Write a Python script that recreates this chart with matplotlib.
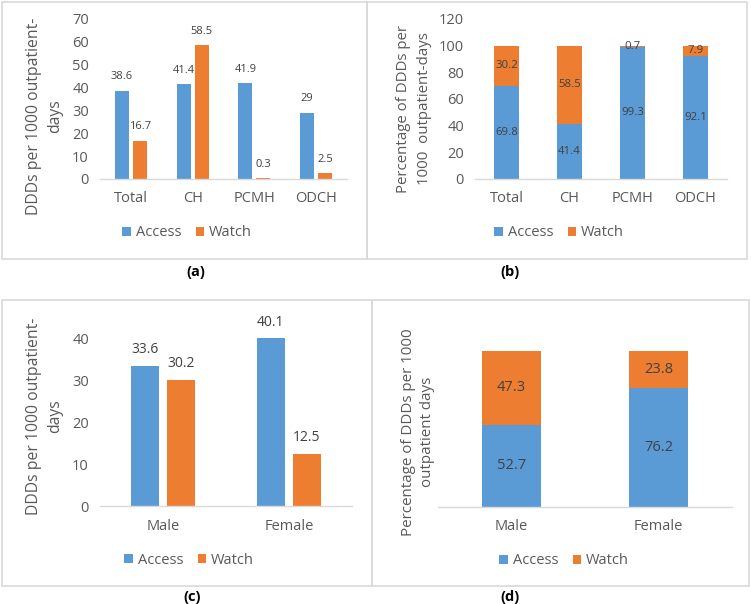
import matplotlib
matplotlib.use("Agg")
import matplotlib.pyplot as plt
from matplotlib.patches import Patch, Rectangle
import numpy as np

plt.rcParams['font.family'] = ['Open Sans', 'DejaVu Sans']

# ---- data ----
facilities = ["Total", "CH", "PCMH", "ODCH"]
access_ddd = [38.6, 41.4, 41.9, 29]
watch_ddd = [16.7, 58.5, 0.3, 2.5]
access_pct = [69.8, 41.4, 99.3, 92.1]
watch_pct = [30.2, 58.5, 0.7, 7.9]

sexes = ["Male", "Female"]
access_ddd_sex = [33.6, 40.1]
watch_ddd_sex = [30.2, 12.5]
access_pct_sex = [52.7, 76.2]
watch_pct_sex = [47.3, 23.8]

series_names = ["Access", "Watch"]
yticks_a = [0, 10, 20, 30, 40, 50, 60, 70]
yticks_b = [0, 20, 40, 60, 80, 100, 120]
yticks_c = [0, 10, 20, 30, 40]

BLUE = "#5B9BD5"
ORANGE = "#ED7D31"
TICK = "#595959"
LAB = "#404040"
GRID = "#D9D9D9"

W, H = 751, 604
fig = plt.figure(figsize=(W / 100, H / 100), dpi=100)


def rect(x0, y0, x1, y1):
    """pixel box (top-left origin) -> figure fraction rect"""
    return [x0 / W, 1 - y1 / H, (x1 - x0) / W, (y1 - y0) / H]


def fx(x):
    return x / W


def fy(y):
    return 1 - y / H


# panel borders
for (x0, y0, x1, y1) in [(2, 2, 367, 259), (367, 2, 747, 259),
                         (2, 300, 372, 586), (372, 300, 749, 586)]:
    fig.add_artist(Rectangle((fx(x0), fy(y1)), fx(x1) - fx(x0), fy(y0) - fy(y1),
                             transform=fig.transFigure, fill=False,
                             edgecolor=GRID, linewidth=1.2))


def style(ax, cats, tick_fs, show_y=True):
    for s in ["top", "right", "left"]:
        ax.spines[s].set_visible(False)
    ax.spines["bottom"].set_color(GRID)
    ax.spines["bottom"].set_linewidth(1.0)
    ax.tick_params(axis="both", length=0, colors=TICK, labelsize=tick_fs)
    ax.set_xticks(range(len(cats)))
    ax.set_xticklabels(cats)
    ax.tick_params(axis="x", pad=9)
    ax.tick_params(axis="y", pad=8)
    ax.set_xlim(-0.5, len(cats) - 0.5)
    if not show_y:
        ax.set_yticks([])


def legend(ax, cx, cy, fs):
    handles = [Patch(facecolor=BLUE), Patch(facecolor=ORANGE)]
    fig.legend(handles, series_names, loc="center", bbox_to_anchor=(fx(cx), fy(cy)),
               ncol=2, frameon=False, fontsize=fs, labelcolor=TICK,
               handlelength=0.6, handleheight=0.6, handletextpad=0.3,
               columnspacing=1.0, borderpad=0)


def ylabel(text, cx, cy, fs, ls):
    fig.text(fx(cx), fy(cy), text, rotation=90, ha="center", va="center",
             multialignment="center", fontsize=fs, color=TICK, linespacing=ls)


TFS = 10.5

# ---- (a) ----
ax = fig.add_axes(rect(100, 19, 347, 179))
x = np.arange(len(facilities))
w, off = 0.23, 0.146
b1 = ax.bar(x - off, access_ddd, w, color=BLUE)
b2 = ax.bar(x + off, watch_ddd, w, color=ORANGE)
ax.set_ylim(0, 70)
ax.set_yticks(yticks_a)
style(ax, facilities, TFS)
for bars in (b1, b2):
    for r, v in zip(bars, bars.datavalues):
        ax.annotate(f"{v:g}", (r.get_x() + r.get_width() / 2, v), xytext=(0, 6),
                    textcoords="offset points", ha="center", va="bottom",
                    fontsize=8, color=LAB)
legend(ax, 187, 233, TFS)
ylabel("DDDs per 1000 outpatient-\ndays", 45, 116, 11.3, 1.43)
fig.text(fx(196), fy(272), "(a)", ha="center", va="center", fontsize=10.5,
         fontweight="bold", color="black")

# ---- (b) ----
ax = fig.add_axes(rect(475, 19, 727, 179))
bw = 0.4
s1 = ax.bar(x, access_pct, bw, color=BLUE)
s2 = ax.bar(x, watch_pct, bw, bottom=access_pct, color=ORANGE)
ax.set_ylim(0, 120)
ax.set_yticks(yticks_b)
style(ax, facilities, TFS)
for bars, bottoms in ((s1, [0] * 4), (s2, access_pct)):
    for r, v, b in zip(bars, bars.datavalues, bottoms):
        ax.text(r.get_x() + r.get_width() / 2, b + v / 2, f"{v:g}", ha="center",
                va="center", fontsize=8.2, color=LAB)
legend(ax, 559, 233, TFS)
ylabel("Percentage of DDDs per\n1000  outpatient-days", 414, 109, 10.8, 1.6)
fig.text(fx(510), fy(272), "(b)", ha="center", va="center", fontsize=10.5,
         fontweight="bold", color="black")

# ---- (c) ----
ax = fig.add_axes(rect(100, 318, 352, 506))
xs = np.arange(len(sexes))
w2, off2 = 0.22, 0.143
c1 = ax.bar(xs - off2, access_ddd_sex, w2, color=BLUE)
c2 = ax.bar(xs + off2, watch_ddd_sex, w2, color=ORANGE)
ax.set_ylim(0, 45)
ax.set_yticks(yticks_c)
style(ax, sexes, TFS)
for bars in (c1, c2):
    for r, v in zip(bars, bars.datavalues):
        ax.annotate(f"{v:g}", (r.get_x() + r.get_width() / 2, v), xytext=(0, 6),
                    textcoords="offset points", ha="center", va="bottom",
                    fontsize=10, color=LAB)
legend(ax, 189, 560, TFS)
ylabel("DDDs per 1000 outpatient-\ndays", 45, 416, 11.3, 1.43)
fig.text(fx(192), fy(597), "(c)", ha="center", va="center", fontsize=10.5,
         fontweight="bold", color="black")

# ---- (d) ----
ax = fig.add_axes(rect(438, 351, 732, 507))
d1 = ax.bar(xs, access_pct_sex, 0.4, color=BLUE)
d2 = ax.bar(xs, watch_pct_sex, 0.4, bottom=access_pct_sex, color=ORANGE)
ax.set_ylim(0, 100)
style(ax, sexes, TFS, show_y=False)
for bars, bottoms in ((d1, [0, 0]), (d2, access_pct_sex)):
    for r, v, b in zip(bars, bars.datavalues, bottoms):
        ax.text(r.get_x() + r.get_width() / 2, b + v / 2, f"{v:g}", ha="center",
                va="center", fontsize=10.5, color=LAB)
legend(ax, 564, 561, TFS)
ylabel("Percentage of DDDs per 1000\noutpatient days", 418, 432, 10.9, 1.35)
fig.text(fx(510), fy(597), "(d)", ha="center", va="center", fontsize=10.5,
         fontweight="bold", color="black")

fig.savefig("out.png", dpi=100)
